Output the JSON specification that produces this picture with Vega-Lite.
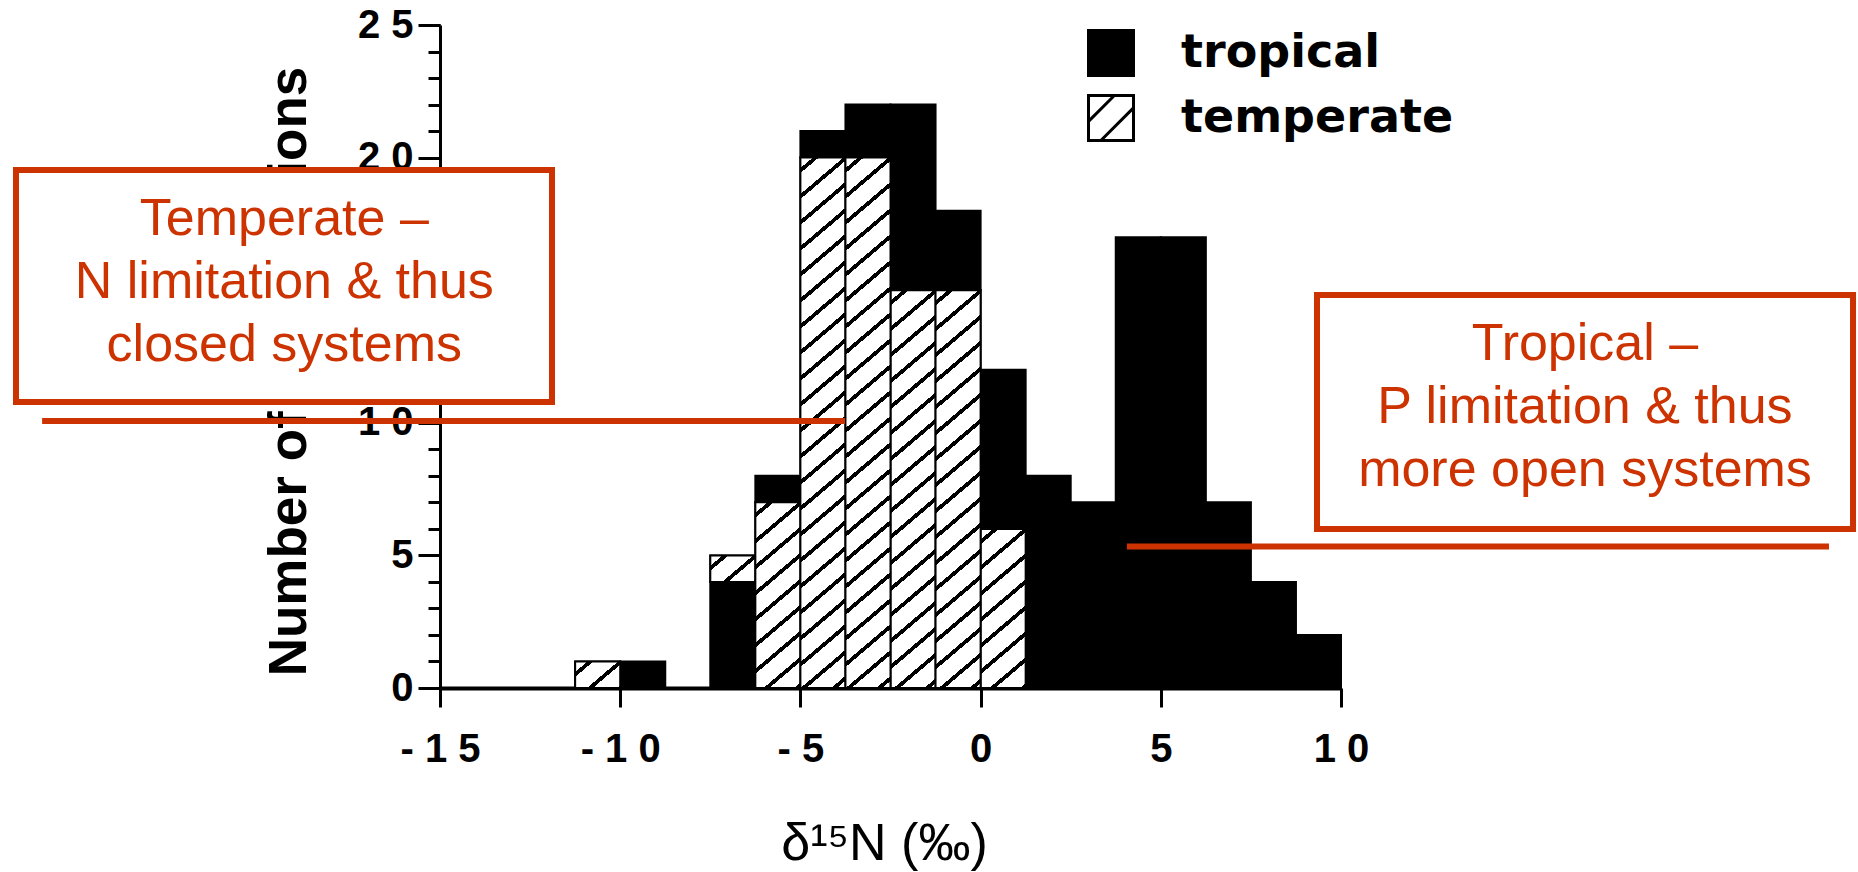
{
  "$schema": "https://vega.github.io/schema/vega-lite/v6.json",
  "width": 901,
  "height": 663,
  "autosize": {"type": "none"},
  "padding": {"left": 440, "top": 25, "right": 517, "bottom": 184},
  "background": "white",
  "config": {"view": {"stroke": null}},
  "resolve": {"axis": {"y": "independent"}},
  "data": {
    "values": [
      {"bin_start": -11.25, "bin_end": -10, "climate": "temperate", "count": 1, "order": 1},
      {"bin_start": -10, "bin_end": -8.75, "climate": "tropical", "count": 1, "order": 1},
      {"bin_start": -7.5, "bin_end": -6.25, "climate": "tropical", "count": 4, "order": 1},
      {"bin_start": -7.5, "bin_end": -6.25, "climate": "temperate", "count": 1, "order": 2},
      {"bin_start": -6.25, "bin_end": -5, "climate": "temperate", "count": 7, "order": 1},
      {"bin_start": -6.25, "bin_end": -5, "climate": "tropical", "count": 1, "order": 2},
      {"bin_start": -5, "bin_end": -3.75, "climate": "temperate", "count": 20, "order": 1},
      {"bin_start": -5, "bin_end": -3.75, "climate": "tropical", "count": 1, "order": 2},
      {"bin_start": -3.75, "bin_end": -2.5, "climate": "temperate", "count": 20, "order": 1},
      {"bin_start": -3.75, "bin_end": -2.5, "climate": "tropical", "count": 2, "order": 2},
      {"bin_start": -2.5, "bin_end": -1.25, "climate": "temperate", "count": 15, "order": 1},
      {"bin_start": -2.5, "bin_end": -1.25, "climate": "tropical", "count": 7, "order": 2},
      {"bin_start": -1.25, "bin_end": 0, "climate": "temperate", "count": 15, "order": 1},
      {"bin_start": -1.25, "bin_end": 0, "climate": "tropical", "count": 3, "order": 2},
      {"bin_start": 0, "bin_end": 1.25, "climate": "temperate", "count": 6, "order": 1},
      {"bin_start": 0, "bin_end": 1.25, "climate": "tropical", "count": 6, "order": 2},
      {"bin_start": 1.25, "bin_end": 2.5, "climate": "tropical", "count": 8, "order": 1},
      {"bin_start": 2.5, "bin_end": 3.75, "climate": "tropical", "count": 7, "order": 1},
      {"bin_start": 3.75, "bin_end": 5, "climate": "tropical", "count": 17, "order": 1},
      {"bin_start": 5, "bin_end": 6.25, "climate": "tropical", "count": 17, "order": 1},
      {"bin_start": 6.25, "bin_end": 7.5, "climate": "tropical", "count": 7, "order": 1},
      {"bin_start": 7.5, "bin_end": 8.75, "climate": "tropical", "count": 4, "order": 1},
      {"bin_start": 8.75, "bin_end": 10, "climate": "tropical", "count": 2, "order": 1}
    ]
  },
  "layer": [
    {
      "transform": [
        {"stack": "count", "groupby": ["bin_start"], "sort": [{"field": "order", "order": "ascending"}], "as": ["y0", "y1"]}
      ],
      "encoding": {
        "x": {
          "field": "bin_start", "type": "quantitative",
          "scale": {"domain": [-15, 10], "nice": false, "zero": false},
          "axis": {
            "values": [-15, -10, -5, 0, 5, 10],
            "title": "δ¹⁵N (‰)",
            "titleFont": "Liberation Sans", "titleFontSize": 52, "titleFontWeight": "normal", "titleColor": "black",
            "titleX": 444, "titleY": 171, "titleAlign": "center", "titleBaseline": "alphabetic",
            "labelExpr": "join(split(toString(datum.value), ''), ' ')",
            "labelFont": "Liberation Sans", "labelFontWeight": "bold", "labelFontSize": 40, "labelColor": "black",
            "labelPadding": 22, "labelFlush": false, "labelOverlap": false,
            "tickSize": 19, "tickWidth": 3, "tickColor": "black",
            "domainWidth": 4, "domainColor": "black", "grid": false
          }
        },
        "x2": {"field": "bin_end"},
        "y": {
          "field": "y1", "type": "quantitative",
          "scale": {"domain": [0, 25], "nice": false},
          "axis": {
            "orient": "left",
            "values": [0, 5, 10, 15, 20, 25],
            "title": "Number of observations",
            "titleFont": "Liberation Sans", "titleFontSize": 53, "titleFontWeight": "bold", "titleColor": "black",
            "titleX": -135, "titleY": 346, "titleAngle": 270, "titleAlign": "center", "titleBaseline": "alphabetic",
            "labelExpr": "join(split(toString(datum.value), ''), ' ')",
            "labelFont": "Liberation Sans", "labelFontWeight": "bold", "labelFontSize": 40, "labelColor": "black",
            "labelPadding": 5, "labelFlush": false, "labelOverlap": false,
            "tickSize": 22, "tickWidth": 3, "tickColor": "black",
            "domainWidth": 3, "domainColor": "black", "grid": false
          }
        },
        "y2": {"field": "y0"}
      },
      "layer": [
        {
          "mark": {"type": "bar", "stroke": "black", "strokeWidth": 2, "opacity": 1},
          "encoding": {
            "fill": {
              "field": "climate", "type": "nominal",
              "scale": {"domain": ["tropical", "temperate"], "range": ["black", "white"]},
              "legend": {
                "orient": "none", "legendX": 647, "legendY": 4, "title": null, "padding": 0,
                "symbolType": "M-1,-1H1V1H-1Z M-1,0.15L0.15,-1 M-0.45,1L1,-0.45",
                "symbolSize": 2025, "symbolStrokeColor": "black", "symbolStrokeWidth": 3, "symbolOpacity": 1,
                "labelFont": "DejaVu Sans", "labelFontWeight": "bold", "labelFontSize": 46, "labelColor": "black",
                "labelOffset": 46, "rowPadding": 7, "labelLimit": 400,
                "encode": {
                  "symbols": {
                    "update": {
                      "stroke": {"value": "black"},
                      "strokeWidth": {"value": 3}
                    }
                  }
                }
              }
            }
          }
        },
        {
          "transform": [{"filter": "datum.climate === 'temperate' && datum.count === 1"}],
          "mark": {"type": "bar", "stroke": "black", "strokeWidth": 2, "fill": {"gradient": "linear", "x1": 0, "y1": 0, "x2": 1.1438, "y2": 0.7922, "stops": [
            {"offset": 0, "color": "white"},
            {"offset": 0.16201, "color": "white"}, {"offset": 0.16201, "color": "black"}, {"offset": 0.23916, "color": "black"}, {"offset": 0.23916, "color": "white"},
            {"offset": 0.56318, "color": "white"}, {"offset": 0.56318, "color": "black"}, {"offset": 0.64033, "color": "black"}, {"offset": 0.64033, "color": "white"},
            {"offset": 0.96436, "color": "white"}, {"offset": 0.96436, "color": "black"}, {"offset": 1, "color": "black"}
          ]}}
        },
        {
          "transform": [{"filter": "datum.climate === 'temperate' && datum.count === 6"}],
          "mark": {"type": "bar", "stroke": "black", "strokeWidth": 2, "fill": {"gradient": "linear", "x1": 0, "y1": 0, "x2": 0.28221, "y2": 1.17275, "stops": [
            {"offset": 0, "color": "white"},
            {"offset": 0.05319, "color": "white"}, {"offset": 0.05319, "color": "black"}, {"offset": 0.07852, "color": "black"}, {"offset": 0.07852, "color": "white"},
            {"offset": 0.18490, "color": "white"}, {"offset": 0.18490, "color": "black"}, {"offset": 0.21022, "color": "black"}, {"offset": 0.21022, "color": "white"},
            {"offset": 0.31660, "color": "white"}, {"offset": 0.31660, "color": "black"}, {"offset": 0.34193, "color": "black"}, {"offset": 0.34193, "color": "white"},
            {"offset": 0.44831, "color": "white"}, {"offset": 0.44831, "color": "black"}, {"offset": 0.47364, "color": "black"}, {"offset": 0.47364, "color": "white"},
            {"offset": 0.58002, "color": "white"}, {"offset": 0.58002, "color": "black"}, {"offset": 0.60534, "color": "black"}, {"offset": 0.60534, "color": "white"},
            {"offset": 0.71172, "color": "white"}, {"offset": 0.71172, "color": "black"}, {"offset": 0.73705, "color": "black"}, {"offset": 0.73705, "color": "white"},
            {"offset": 0.84343, "color": "white"}, {"offset": 0.84343, "color": "black"}, {"offset": 0.86876, "color": "black"}, {"offset": 0.86876, "color": "white"},
            {"offset": 0.97514, "color": "white"}, {"offset": 0.97514, "color": "black"}, {"offset": 1, "color": "black"}
          ]}}
        },
        {
          "transform": [{"filter": "datum.climate === 'temperate' && datum.count === 7"}],
          "mark": {"type": "bar", "stroke": "black", "strokeWidth": 2, "fill": {"gradient": "linear", "x1": 0, "y1": 0, "x2": 0.23865, "y2": 1.15702, "stops": [
            {"offset": 0, "color": "white"},
            {"offset": 0.04689, "color": "white"}, {"offset": 0.04689, "color": "black"}, {"offset": 0.06922, "color": "black"}, {"offset": 0.06922, "color": "white"},
            {"offset": 0.16300, "color": "white"}, {"offset": 0.16300, "color": "black"}, {"offset": 0.18533, "color": "black"}, {"offset": 0.18533, "color": "white"},
            {"offset": 0.27911, "color": "white"}, {"offset": 0.27911, "color": "black"}, {"offset": 0.30143, "color": "black"}, {"offset": 0.30143, "color": "white"},
            {"offset": 0.39521, "color": "white"}, {"offset": 0.39521, "color": "black"}, {"offset": 0.41754, "color": "black"}, {"offset": 0.41754, "color": "white"},
            {"offset": 0.51132, "color": "white"}, {"offset": 0.51132, "color": "black"}, {"offset": 0.53365, "color": "black"}, {"offset": 0.53365, "color": "white"},
            {"offset": 0.62743, "color": "white"}, {"offset": 0.62743, "color": "black"}, {"offset": 0.64976, "color": "black"}, {"offset": 0.64976, "color": "white"},
            {"offset": 0.74354, "color": "white"}, {"offset": 0.74354, "color": "black"}, {"offset": 0.76586, "color": "black"}, {"offset": 0.76586, "color": "white"},
            {"offset": 0.85964, "color": "white"}, {"offset": 0.85964, "color": "black"}, {"offset": 0.88197, "color": "black"}, {"offset": 0.88197, "color": "white"},
            {"offset": 0.97575, "color": "white"}, {"offset": 0.97575, "color": "black"}, {"offset": 0.99808, "color": "black"}, {"offset": 0.99808, "color": "white"},
            {"offset": 1, "color": "white"}
          ]}}
        },
        {
          "transform": [{"filter": "datum.climate === 'temperate' && datum.count === 15"}],
          "mark": {"type": "bar", "stroke": "black", "strokeWidth": 2, "fill": {"gradient": "linear", "x1": 0, "y1": 0, "x2": 0.10455, "y2": 1.08619, "stops": [
            {"offset": 0, "color": "white"},
            {"offset": 0.02408, "color": "white"}, {"offset": 0.02408, "color": "black"}, {"offset": 0.03554, "color": "black"}, {"offset": 0.03554, "color": "white"},
            {"offset": 0.08370, "color": "white"}, {"offset": 0.08370, "color": "black"}, {"offset": 0.09516, "color": "black"}, {"offset": 0.09516, "color": "white"},
            {"offset": 0.14332, "color": "white"}, {"offset": 0.14332, "color": "black"}, {"offset": 0.15479, "color": "black"}, {"offset": 0.15479, "color": "white"},
            {"offset": 0.20294, "color": "white"}, {"offset": 0.20294, "color": "black"}, {"offset": 0.21441, "color": "black"}, {"offset": 0.21441, "color": "white"},
            {"offset": 0.26256, "color": "white"}, {"offset": 0.26256, "color": "black"}, {"offset": 0.27403, "color": "black"}, {"offset": 0.27403, "color": "white"},
            {"offset": 0.32218, "color": "white"}, {"offset": 0.32218, "color": "black"}, {"offset": 0.33365, "color": "black"}, {"offset": 0.33365, "color": "white"},
            {"offset": 0.38180, "color": "white"}, {"offset": 0.38180, "color": "black"}, {"offset": 0.39327, "color": "black"}, {"offset": 0.39327, "color": "white"},
            {"offset": 0.44143, "color": "white"}, {"offset": 0.44143, "color": "black"}, {"offset": 0.45289, "color": "black"}, {"offset": 0.45289, "color": "white"},
            {"offset": 0.50105, "color": "white"}, {"offset": 0.50105, "color": "black"}, {"offset": 0.51251, "color": "black"}, {"offset": 0.51251, "color": "white"},
            {"offset": 0.56067, "color": "white"}, {"offset": 0.56067, "color": "black"}, {"offset": 0.57213, "color": "black"}, {"offset": 0.57213, "color": "white"},
            {"offset": 0.62029, "color": "white"}, {"offset": 0.62029, "color": "black"}, {"offset": 0.63175, "color": "black"}, {"offset": 0.63175, "color": "white"},
            {"offset": 0.67991, "color": "white"}, {"offset": 0.67991, "color": "black"}, {"offset": 0.69137, "color": "black"}, {"offset": 0.69137, "color": "white"},
            {"offset": 0.73953, "color": "white"}, {"offset": 0.73953, "color": "black"}, {"offset": 0.75099, "color": "black"}, {"offset": 0.75099, "color": "white"},
            {"offset": 0.79915, "color": "white"}, {"offset": 0.79915, "color": "black"}, {"offset": 0.81062, "color": "black"}, {"offset": 0.81062, "color": "white"},
            {"offset": 0.85877, "color": "white"}, {"offset": 0.85877, "color": "black"}, {"offset": 0.87024, "color": "black"}, {"offset": 0.87024, "color": "white"},
            {"offset": 0.91839, "color": "white"}, {"offset": 0.91839, "color": "black"}, {"offset": 0.92986, "color": "black"}, {"offset": 0.92986, "color": "white"},
            {"offset": 0.97801, "color": "white"}, {"offset": 0.97801, "color": "black"}, {"offset": 0.98948, "color": "black"}, {"offset": 0.98948, "color": "white"},
            {"offset": 1, "color": "white"}
          ]}}
        },
        {
          "transform": [{"filter": "datum.climate === 'temperate' && datum.count === 20"}],
          "mark": {"type": "bar", "stroke": "black", "strokeWidth": 2, "fill": {"gradient": "linear", "x1": 0, "y1": 0, "x2": 0.07700, "y2": 1.06663, "stops": [
            {"offset": 0, "color": "white"},
            {"offset": 0.01846, "color": "white"}, {"offset": 0.01846, "color": "black"}, {"offset": 0.02726, "color": "black"}, {"offset": 0.02726, "color": "white"},
            {"offset": 0.06418, "color": "white"}, {"offset": 0.06418, "color": "black"}, {"offset": 0.07297, "color": "black"}, {"offset": 0.07297, "color": "white"},
            {"offset": 0.10990, "color": "white"}, {"offset": 0.10990, "color": "black"}, {"offset": 0.11869, "color": "black"}, {"offset": 0.11869, "color": "white"},
            {"offset": 0.15562, "color": "white"}, {"offset": 0.15562, "color": "black"}, {"offset": 0.16441, "color": "black"}, {"offset": 0.16441, "color": "white"},
            {"offset": 0.20134, "color": "white"}, {"offset": 0.20134, "color": "black"}, {"offset": 0.21013, "color": "black"}, {"offset": 0.21013, "color": "white"},
            {"offset": 0.24706, "color": "white"}, {"offset": 0.24706, "color": "black"}, {"offset": 0.25585, "color": "black"}, {"offset": 0.25585, "color": "white"},
            {"offset": 0.29278, "color": "white"}, {"offset": 0.29278, "color": "black"}, {"offset": 0.30157, "color": "black"}, {"offset": 0.30157, "color": "white"},
            {"offset": 0.33850, "color": "white"}, {"offset": 0.33850, "color": "black"}, {"offset": 0.34729, "color": "black"}, {"offset": 0.34729, "color": "white"},
            {"offset": 0.38422, "color": "white"}, {"offset": 0.38422, "color": "black"}, {"offset": 0.39301, "color": "black"}, {"offset": 0.39301, "color": "white"},
            {"offset": 0.42993, "color": "white"}, {"offset": 0.42993, "color": "black"}, {"offset": 0.43873, "color": "black"}, {"offset": 0.43873, "color": "white"},
            {"offset": 0.47565, "color": "white"}, {"offset": 0.47565, "color": "black"}, {"offset": 0.48445, "color": "black"}, {"offset": 0.48445, "color": "white"},
            {"offset": 0.52137, "color": "white"}, {"offset": 0.52137, "color": "black"}, {"offset": 0.53016, "color": "black"}, {"offset": 0.53016, "color": "white"},
            {"offset": 0.56709, "color": "white"}, {"offset": 0.56709, "color": "black"}, {"offset": 0.57588, "color": "black"}, {"offset": 0.57588, "color": "white"},
            {"offset": 0.61281, "color": "white"}, {"offset": 0.61281, "color": "black"}, {"offset": 0.62160, "color": "black"}, {"offset": 0.62160, "color": "white"},
            {"offset": 0.65853, "color": "white"}, {"offset": 0.65853, "color": "black"}, {"offset": 0.66732, "color": "black"}, {"offset": 0.66732, "color": "white"},
            {"offset": 0.70425, "color": "white"}, {"offset": 0.70425, "color": "black"}, {"offset": 0.71304, "color": "black"}, {"offset": 0.71304, "color": "white"},
            {"offset": 0.74997, "color": "white"}, {"offset": 0.74997, "color": "black"}, {"offset": 0.75876, "color": "black"}, {"offset": 0.75876, "color": "white"},
            {"offset": 0.79569, "color": "white"}, {"offset": 0.79569, "color": "black"}, {"offset": 0.80448, "color": "black"}, {"offset": 0.80448, "color": "white"},
            {"offset": 0.84141, "color": "white"}, {"offset": 0.84141, "color": "black"}, {"offset": 0.85020, "color": "black"}, {"offset": 0.85020, "color": "white"},
            {"offset": 0.88712, "color": "white"}, {"offset": 0.88712, "color": "black"}, {"offset": 0.89592, "color": "black"}, {"offset": 0.89592, "color": "white"},
            {"offset": 0.93284, "color": "white"}, {"offset": 0.93284, "color": "black"}, {"offset": 0.94164, "color": "black"}, {"offset": 0.94164, "color": "white"},
            {"offset": 0.97856, "color": "white"}, {"offset": 0.97856, "color": "black"}, {"offset": 0.98735, "color": "black"}, {"offset": 0.98735, "color": "white"},
            {"offset": 1, "color": "white"}
          ]}}
        }
      ]
    },
    {
      "data": {"values": [{}]},
      "mark": {"type": "rule", "stroke": "#cc3300", "strokeWidth": 6},
      "encoding": {
        "x": {"datum": -26.04, "type": "quantitative"},
        "x2": {"datum": -3.76},
        "y": {
          "datum": 10.07, "type": "quantitative",
          "axis": {
            "orient": "left",
            "values": [0,1,2,3,4,5,6,7,8,9,10,11,12,13,14,15,16,17,18,19,20,21,22,23,24,25],
            "labels": false, "domain": false, "grid": false, "title": null,
            "ticks": true, "tickSize": 12, "tickWidth": 3, "tickColor": "black"
          }
        }
      }
    },
    {
      "data": {"values": [{}]},
      "mark": {"type": "rule", "stroke": "#cc3300", "strokeWidth": 6},
      "encoding": {
        "x": {"datum": 4.06, "type": "quantitative"},
        "x2": {"datum": 23.54},
        "y": {"datum": 5.336, "type": "quantitative", "axis": null}
      }
    },
    {
      "data": {"values": [{}]},
      "mark": {"type": "rect", "fill": "white", "stroke": "#cc3300", "strokeWidth": 6},
      "encoding": {
        "x": {"datum": -26.765, "type": "quantitative"},
        "x2": {"datum": -11.892},
        "y": {"datum": 19.532, "type": "quantitative", "axis": null},
        "y2": {"datum": 10.784}
      }
    },
    {
      "data": {"values": [{}]},
      "mark": {"type": "rect", "fill": "white", "stroke": "#cc3300", "strokeWidth": 6},
      "encoding": {
        "x": {"datum": 9.334, "type": "quantitative"},
        "x2": {"datum": 24.207},
        "y": {"datum": 14.819, "type": "quantitative", "axis": null},
        "y2": {"datum": 5.995}
      }
    },
    {
      "data": {"values": [{}]},
      "mark": {"type": "text", "text": ["Temperate –", "N limitation & thus", "closed systems"], "font": "Liberation Sans", "fontSize": 52, "lineHeight": 63, "fill": "#cc3300", "align": "center", "baseline": "alphabetic"},
      "encoding": {
        "x": {"datum": -19.32, "type": "quantitative"},
        "y": {"datum": 17.08, "type": "quantitative", "axis": null}
      }
    },
    {
      "data": {"values": [{}]},
      "mark": {"type": "text", "text": ["Tropical –", "P limitation & thus", "more open systems"], "font": "Liberation Sans", "fontSize": 52, "lineHeight": 63, "fill": "#cc3300", "align": "center", "baseline": "alphabetic"},
      "encoding": {
        "x": {"datum": 16.77, "type": "quantitative"},
        "y": {"datum": 12.368, "type": "quantitative", "axis": null}
      }
    }
  ]
}
